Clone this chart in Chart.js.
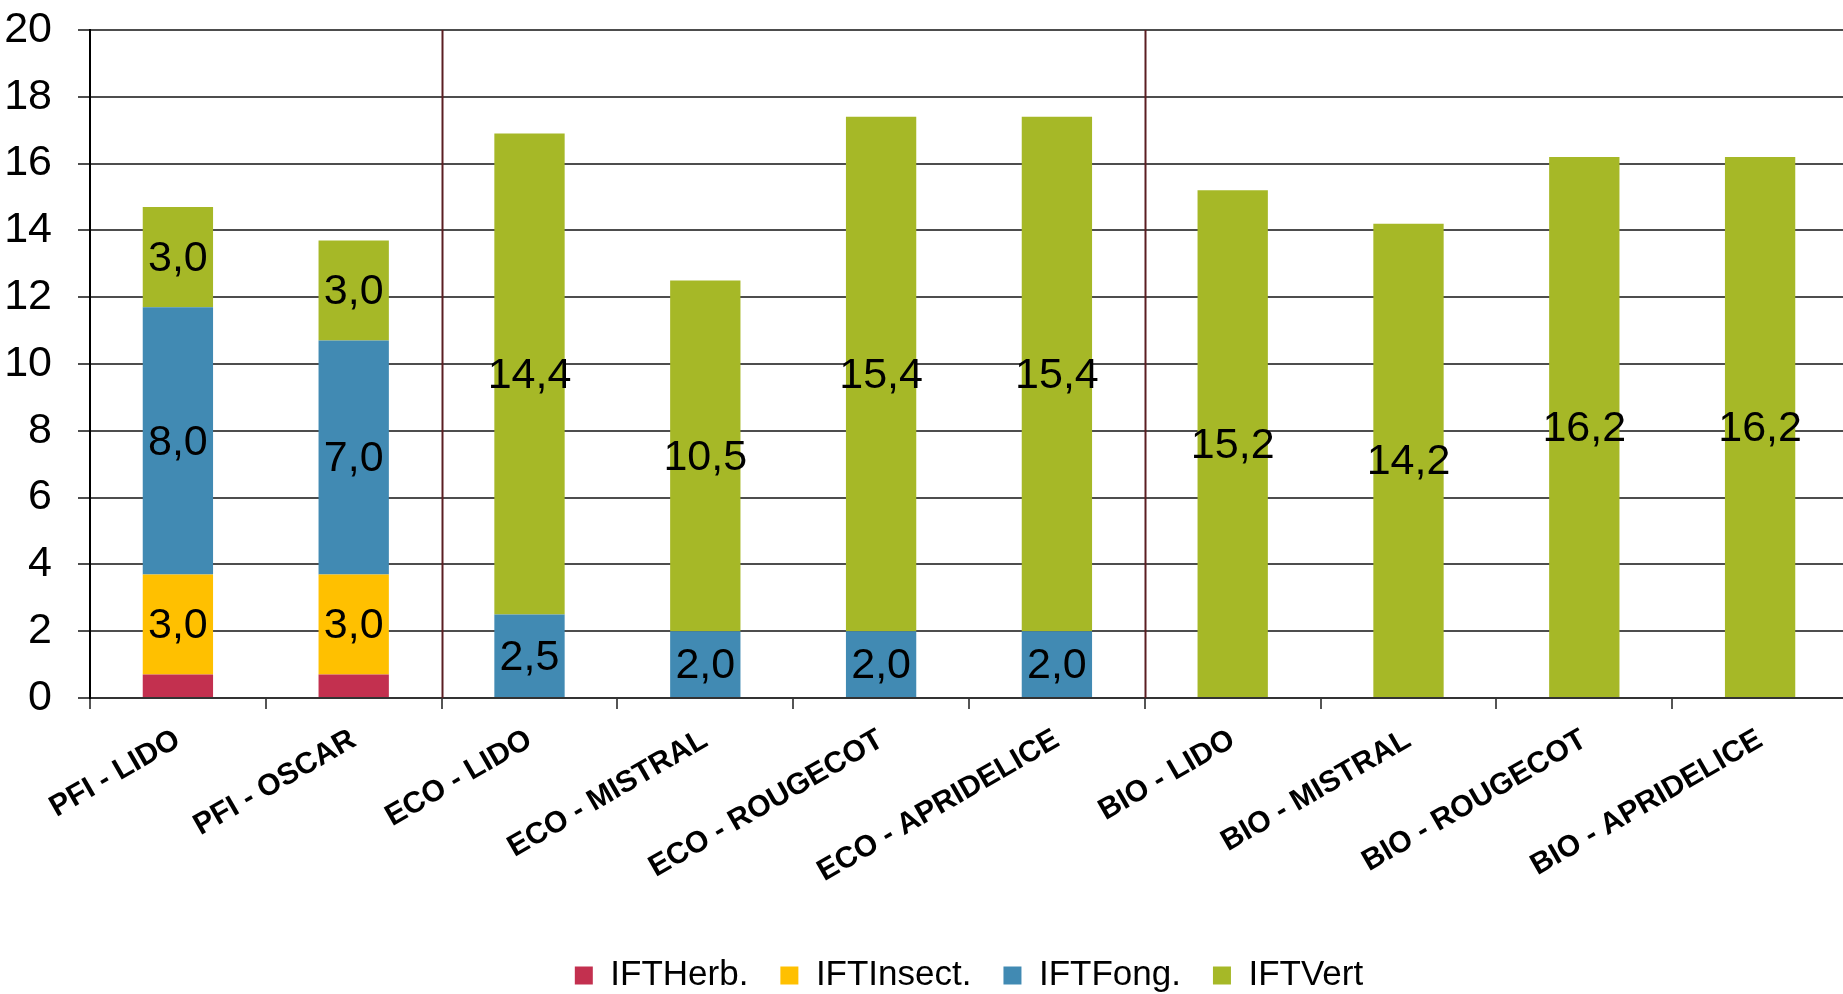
<!DOCTYPE html>
<html>
<head>
<meta charset="utf-8">
<script src="https://cdn.jsdelivr.net/npm/chart.js@4/dist/chart.umd.min.js"></script>
<style>
  html, body { margin: 0; padding: 0; background: #fff; overflow: hidden; }
  #wrap { position: absolute; left: 0; top: 0; width: 1850px; height: 1003px; }
</style>
</head>
<body>
<div id="wrap"><canvas id="chart"></canvas></div>
<script>
const categorias = ["PFI - LIDO", "PFI - OSCAR", "ECO - LIDO", "ECO - MISTRAL", "ECO - ROUGECOT",
  "ECO - APRIDELICE", "BIO - LIDO", "BIO - MISTRAL", "BIO - ROUGECOT", "BIO - APRIDELICE"];
const iftHerb   = [0.7, 0.7, 0, 0, 0, 0, 0, 0, 0, 0];
const iftInsect = [3.0, 3.0, 0, 0, 0, 0, 0, 0, 0, 0];
const iftFong   = [8.0, 7.0, 2.5, 2.0, 2.0, 2.0, 0, 0, 0, 0];
const iftVert   = [3.0, 3.0, 14.4, 10.5, 15.4, 15.4, 15.2, 14.2, 16.2, 16.2];
// groups separated by a vertical line after these category indexes
const separadores = [1.5, 5.5];

const FONT = "'Liberation Sans', Arial, sans-serif";

// vertical separators between PFI / ECO / BIO
const separadorPlugin = {
  id: "separador",
  beforeDatasetsDraw(chart) {
    const {ctx, chartArea, scales: {x}} = chart;
    ctx.save();
    ctx.strokeStyle = "#5b1e22";
    ctx.lineWidth = 2;
    separadores.forEach(v => {
      const px = Math.round(x.getPixelForValue(v)) + 0.5;
      ctx.beginPath();
      ctx.moveTo(px, chartArea.top);
      ctx.lineTo(px, chartArea.bottom);
      ctx.stroke();
    });
    ctx.restore();
  }
};

// values written in the middle of each segment (except IFTHerb.)
const rotulosPlugin = {
  id: "rotulos",
  afterDatasetsDraw(chart) {
    const {ctx} = chart;
    ctx.save();
    ctx.font = `43px ${FONT}`;
    ctx.fillStyle = "#000";
    ctx.textAlign = "center";
    ctx.textBaseline = "middle";
    chart.data.datasets.forEach((ds, i) => {
      if (i === 0) return;
      chart.getDatasetMeta(i).data.forEach((bar, j) => {
        const v = ds.data[j];
        if (!v) return;
        const c = bar.getCenterPoint();
        ctx.fillText(v.toFixed(1).replace(".", ","), c.x, c.y + 2);
      });
    });
    ctx.restore();
  }
};

new Chart(document.getElementById("chart"), {
  type: "bar",
  data: {
    labels: categorias,
    datasets: [
      { label: "IFTHerb.",   data: iftHerb,   backgroundColor: "#c3304f" },
      { label: "IFTInsect.", data: iftInsect, backgroundColor: "#ffc000" },
      { label: "IFTFong.",   data: iftFong,   backgroundColor: "#418ab3" },
      { label: "IFTVert",    data: iftVert,   backgroundColor: "#a6b827" }
    ]
  },
  options: {
    responsive: true,
    maintainAspectRatio: false,
    animation: false,
    devicePixelRatio: 1,
    layout: { padding: { top: 30, right: 2, left: 0, bottom: 0 } },
    datasets: { bar: { barPercentage: 0.4, categoryPercentage: 1, borderWidth: 0 } },
    plugins: {
      tooltip: { enabled: false },
      legend: {
        position: "bottom",
        fullSize: false,
        labels: {
          boxWidth: 18,
          boxHeight: 18,
          padding: 32,
          color: "#000",
          font: { family: FONT, size: 35 }
        }
      }
    },
    scales: {
      x: {
        stacked: true,
        afterFit(scale) { scale.height = 228; },
        grid: { drawOnChartArea: false, drawTicks: true, tickLength: 11, color: "#555", lineWidth: 2, offset: true },
        border: { display: true, color: "#333", width: 2 },
        ticks: {
          minRotation: 30, maxRotation: 30, padding: 13, color: "#000",
          autoSkip: false,
          font: { family: FONT, size: 30, weight: "bold" }
        }
      },
      y: {
        stacked: true,
        min: 0, max: 20,
        afterFit(scale) {
          scale.width = 90;
          scale.paddingTop = 0;
          scale.paddingBottom = 0;
        },
        grid: { color: "#4d4d4d", lineWidth: 2, tickLength: 12, drawTicks: true },
        border: { display: true, color: "#000", width: 2 },
        ticks: { stepSize: 2, padding: 26, color: "#000", font: { family: FONT, size: 43 } }
      }
    }
  },
  plugins: [separadorPlugin, rotulosPlugin]
});
</script>
</body>
</html>
